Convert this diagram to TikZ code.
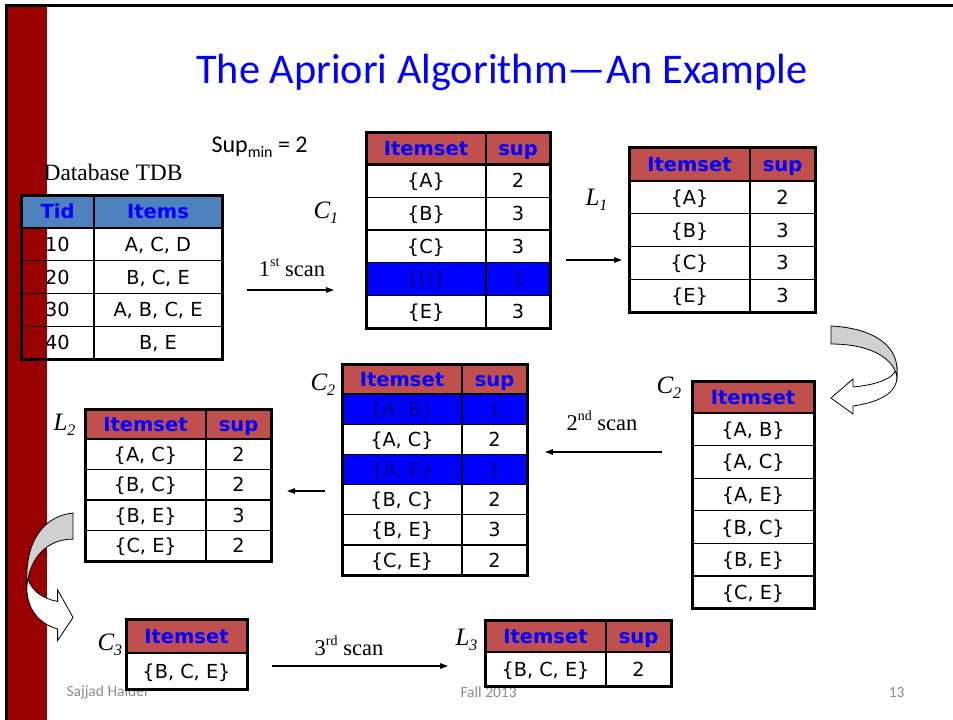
\documentclass[tikz,border=0pt]{standalone}
\usepackage{fontspec}
\setmainfont{Liberation Serif}
\newfontfamily\dejavu{DejaVu Sans}
\newfontfamily\carlito{Carlito}
\usetikzlibrary{arrows.meta}

\definecolor{hdred}{HTML}{C0504D}
\definecolor{tdbblue}{HTML}{4F81BD}
\definecolor{barred}{HTML}{990000}
\definecolor{hitext}{HTML}{00008C}
\definecolor{footgray}{HTML}{8C8C8C}
\definecolor{ribbon}{HTML}{D0D0D0}

\newcommand\apHead{\dejavu\bfseries\fontsize{19.5}{22}\selectfont}
\newcommand\apBody{\dejavu\fontsize{19.3}{22}\selectfont}
\newcommand\apLabel{\fontsize{25}{30}\selectfont\itshape}
\newcommand\apScan{\fontsize{22.5}{27}\selectfont}
\newcommand\lowidx[1]{\raisebox{-0.22em}{\fontsize{16}{18}\selectfont #1}}
\newcommand\highidx[1]{\raisebox{0.42em}{\fontsize{14}{16}\selectfont #1}}
\newcommand\hdA{Itemset}
\newcommand\hdB{sup}

\tikzset{
  cellbase/.style={rectangle, anchor=north west, inner sep=0pt, outer sep=0pt,
                   draw=black, line width=1.2pt, align=center},
  headcell/.style={cellbase, fill=hdred, text=blue, font=\apHead,
                   text height=14.2pt, text depth=0pt},
  bodycell/.style={cellbase, font=\apBody, text height=14pt, text depth=0pt},
  rowwhite/.style={fill=white, text=black},
  rowblue/.style={fill=blue, text=hitext},
  rowclear/.style={text=black},
  midrule/.style={line width=2.4pt},
  frame/.style={line width=3pt},
  scanarrow/.style={line width=1.1pt, -{Triangle[length=8pt,width=5.5pt]}},
  setlabel/.style={anchor=base west, font=\apLabel},
  scanlabel/.style={anchor=base, font=\apScan},
  footer/.style={text=footgray, font=\carlito\fontsize{15.5}{18}\selectfont},
  ribbonback/.style={fill=ribbon, draw=black, line width=0.8pt},
  ribbonfront/.style={fill=white, draw=black, line width=0.8pt}
}

% two-column table: name, left, top, widths, header height, row height, row count, rows
\newcommand{\pairtable}[9]{%
  \node[headcell, minimum width=#4, minimum height=#6] (#1-h1) at (#2,#3) {\hdA};
  \node[headcell, minimum width=#5, minimum height=#6] (#1-h2) at (#2+#4,#3) {\hdB};
  \foreach \ta/\tb/\st [count=\rowno] in {#9} {
    \node[bodycell, \st, minimum width=#4, minimum height=#7] (#1-\rowno-1)
      at (#2, #3+#6+\rowno*#7-#7) {\ta};
    \node[bodycell, \st, minimum width=#5, minimum height=#7] (#1-\rowno-2)
      at (#2+#4, #3+#6+\rowno*#7-#7) {\tb};
  }
  \draw[midrule] (#1-h1.south west) -- (#1-h2.south east);
  \draw[midrule] (#1-h1.north east) -- (#1-#8-1.south east);
  \draw[frame] (#1-h1.north west) rectangle (#1-#8-2.south east);
}

% one-column table: name, left, top, width, header height, row height, row count, rows
\newcommand{\itemtable}[8]{%
  \node[headcell, minimum width=#4, minimum height=#5] (#1-h1) at (#2,#3) {Itemset};
  \foreach \ta [count=\rowno] in {#8} {
    \node[bodycell, rowwhite, minimum width=#4, minimum height=#6] (#1-\rowno-1)
      at (#2, #3+#5+\rowno*#6-#6) {\ta};
  }
  \draw[midrule] (#1-h1.south west) -- (#1-h1.south east);
  \draw[frame] (#1-h1.north west) rectangle (#1-#7-1.south east);
}

% curved block arrow in local units (start at top left, tip at lower left)
\newcommand{\turnarrow}{%
  \draw[ribbonfront] (66,41) .. controls (64,53) and (44,59) .. (22,61)
    -- (22,53) -- (0,72) -- (22,88) -- (22,80)
    .. controls (50,76) and (66,66) .. (66,51) -- cycle;
  \draw[ribbonback] (0,0) .. controls (40,2) and (66,18) .. (66,44) -- (66,51)
    .. controls (62,30) and (36,18) .. (0,18) -- cycle;
}

\begin{document}
\begin{tikzpicture}[x=1pt, y=-1pt]
\useasboundingbox (0,0) rectangle (953,720);
\fill[white] (0,0) rectangle (953,720);

% slide frame and side bar
\fill[barred] (8,7) rectangle (47,720);
\draw[line width=3pt] (6.5,720) -- (6.5,5.5) -- (953,5.5);

% footer
\node[footer, anchor=base west] (author) at (63,696) {Sajjad Haider};
\node[footer, anchor=base west] (term) at (457,697) {Fall 2013};
\node[footer, anchor=base east] (pageno) at (908,697) {13};

% title
\node[anchor=base, text=blue, font=\carlito\fontsize{42.3}{50}\selectfont] (title)
  at (502,83) {The Apriori Algorithm—An Example};

\node[anchor=base west, font=\carlito\fontsize{24}{28}\selectfont] (supmin)
  at (208,152) {Sup\lowidx{min} = 2};
\node[anchor=base west, font=\fontsize{23.5}{28}\selectfont] (dbname)
  at (40,180) {Database TDB};

% transaction database
\begin{scope}[headcell/.append style={fill=tdbblue}]
  \def\hdA{Tid}\def\hdB{Items}
  \pairtable{tdb}{21}{195}{73}{128}{33}{32.75}{4}
    {10/{A, C, D}/rowclear, 20/{B, C, E}/rowclear, 30/{A, B, C, E}/rowclear, 40/{B, E}/rowclear}
\end{scope}

% candidate and frequent itemsets
\pairtable{c1}{366}{132}{120}{64}{32.5}{32.7}{5}
  {{\{A\}}/2/rowwhite, {\{B\}}/3/rowwhite, {\{C\}}/3/rowwhite, {\{D\}}/1/rowblue, {\{E\}}/3/rowwhite}
\pairtable{l1}{629}{147}{121}{65}{34}{32.75}{4}
  {{\{A\}}/2/rowwhite, {\{B\}}/3/rowwhite, {\{C\}}/3/rowwhite, {\{E\}}/3/rowwhite}
\itemtable{c2r}{692}{381}{122}{32}{32.6}{6}
  {{\{A, B\}}, {\{A, C\}}, {\{A, E\}}, {\{B, C\}}, {\{B, E\}}, {\{C, E\}}}
\pairtable{c2}{342}{364}{120}{65}{30}{30.2}{6}
  {{\{A, B\}}/1/rowblue, {\{A, C\}}/2/rowwhite, {\{A, E\}}/1/rowblue,
   {\{B, C\}}/2/rowwhite, {\{B, E\}}/3/rowwhite, {\{C, E\}}/2/rowwhite}
\pairtable{l2}{85}{409}{121}{65}{30}{30.5}{4}
  {{\{A, C\}}/2/rowwhite, {\{B, C\}}/2/rowwhite, {\{B, E\}}/3/rowwhite, {\{C, E\}}/2/rowwhite}
\itemtable{c3}{126}{619}{121}{34}{36}{1}{{\{B, C, E\}}}
\pairtable{l3}{485}{620}{121}{65}{32}{34}{1}{{\{B, C, E\}}/2/rowwhite}

% set labels
\node[setlabel] (c1lab) at (310,218) {C\lowidx{1}};
\node[setlabel] (l1lab) at (582,205) {L\lowidx{1}};
\node[setlabel] (c2lab) at (307,390) {C\lowidx{2}};
\node[setlabel] (c2rlab) at (653,393) {C\lowidx{2}};
\node[setlabel] (l2lab) at (50,430) {L\lowidx{2}};
\node[setlabel] (c3lab) at (94,650) {C\lowidx{3}};
\node[setlabel] (l3lab) at (452,645) {L\lowidx{3}};

% scans and pruning steps
\coordinate (s1a) at (247,290); \coordinate (s1b) at (334,290);
\coordinate (p1a) at (566,260); \coordinate (p1b) at (622,260);
\coordinate (s2a) at (662,452); \coordinate (s2b) at (545,452);
\coordinate (p2a) at (325,491); \coordinate (p2b) at (287,491);
\coordinate (s3a) at (272,666); \coordinate (s3b) at (448,666);
\draw[scanarrow] (s1a) -- (s1b);
\draw[scanarrow] (p1a) -- (p1b);
\draw[scanarrow] (s2a) -- (s2b);
\draw[scanarrow] (p2a) -- (p2b);
\draw[scanarrow] (s3a) -- (s3b);
\node[scanlabel] (scan1) at (292,276) {1\highidx{st} scan};
\node[scanlabel] (scan2) at (602,430) {2\highidx{nd} scan};
\node[scanlabel] (scan3) at (349,655) {3\highidx{rd} scan};

% curved block arrows leading to the next candidate generation
\begin{scope}[shift={(831,326)}]
  \turnarrow
\end{scope}
\begin{scope}[shift={(73,513)}, xscale=-0.7, yscale=1.45]
  \turnarrow
\end{scope}
\end{tikzpicture}
\end{document}
